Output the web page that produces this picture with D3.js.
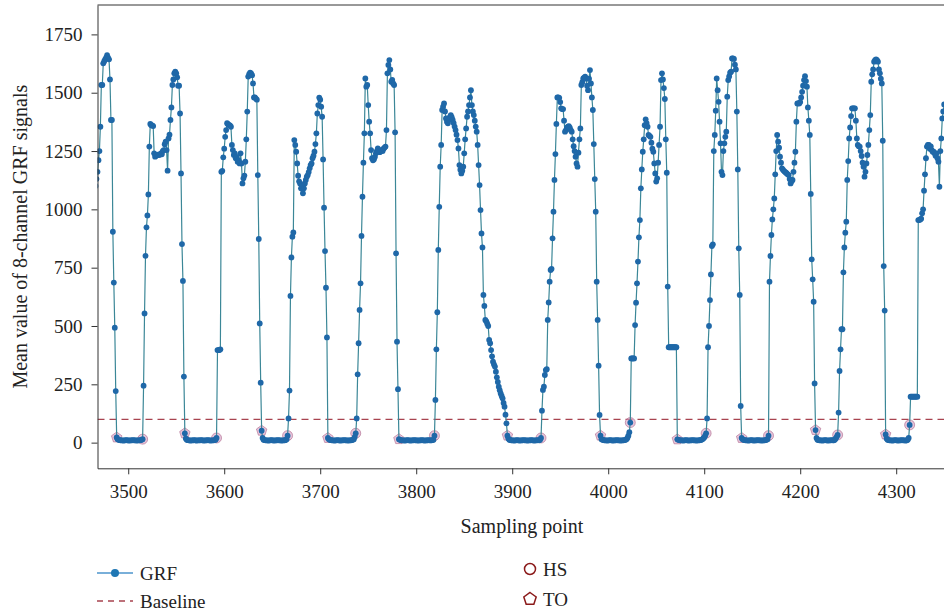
<!DOCTYPE html>
<html><head><meta charset="utf-8">
<script src="https://cdn.jsdelivr.net/npm/d3@7"></script>
<style>body{margin:0;background:#fff}svg{display:block}</style>
</head><body>
<svg id="c" width="944" height="614"></svg>
<script>
const firstSample = 3466;
const stance0 = [1100,1130,1161,1211,1250,1354,1533,1533,1626,1635,1643,1650,1661,1650,1643,1557,1383,1383,904,686,493,221];
const swing1 = [22,15,12,11,10,10,10,9,10,10,11,10,10,9,10,10,10,11,10,10,10,9,10,10,10,11,12,15];
const stance1 = [244,554,801,923,974,1064,1269,1366,1360,1360,1357,1240,1226,1230,1233,1235,1233,1235,1240,1236,1250,1254,1279,1290,1254,1166,1304,1320,1383,1437,1533,1557,1583,1590,1583,1566,1530,1530,1411,1154,851,693,283];
const swing2 = [40,18,12,11,10,10,9,10,10,10,11,10,9,10,10,10,10,11,10,10,9,10,10,10,11,10,10,9,10,10,10,11,12,20];
const stance2 = [397,397,397,400,1161,1165,1223,1260,1311,1340,1369,1365,1361,1360,1354,1276,1254,1233,1240,1219,1225,1204,1210,1197,1240,1197,1111,1133,1145,1204,1300,1419,1569,1580,1586,1583,1575,1540,1480,1480,1475,1470,1147,873,511,257];
const swing3 = [51,20,12,11,10,10,10,9,10,10,11,10,10,9,10,10,10,11,10,10,10,9,10,10,10,11,14,30];
const stance3 = [104,223,629,794,883,901,1297,1276,1247,1197,1144,1120,1111,1090,1100,1069,1090,1111,1126,1140,1147,1160,1176,1190,1197,1219,1230,1247,1280,1326,1411,1447,1479,1470,1440,1397,1214,1007,821,664,451];
const swing4 = [20,14,12,11,10,10,10,9,10,10,11,10,10,9,10,10,10,11,10,10,10,9,10,10,10,11,12,15,25,40];
const stance4 = [104,293,426,569,683,886,1054,1200,1326,1561,1526,1533,1447,1376,1326,1254,1219,1210,1215,1225,1240,1250,1261,1250,1245,1250,1255,1250,1260,1265,1269,1340,1583,1619,1640,1600,1547,1555,1540,1533,1330,811,433,229];
const swing5 = [15,12,11,10,10,10,9,10,10,11,10,10,9,10,10,10,11,10,10,10,9,10,10,10,11,10,10,9,10,10,10,11,10,10,10,11,12,30];
const stance5 = [183,400,559,826,1011,1183,1276,1426,1440,1454,1420,1390,1375,1369,1383,1395,1404,1395,1383,1370,1355,1340,1320,1297,1261,1190,1170,1154,1165,1183,1240,1300,1347,1397,1420,1447,1480,1511,1447,1420,1404,1380,1355,1333,1276,1190,1104,997,897,837,633,586,526,520,510,500,440,426,397,370,347,335,326,304,280,260,240,225,211,200,190,170,154,120,83];
const swing6 = [30,18,12,11,10,10,10,9,10,10,11,10,10,9,10,10,10,11,10,10,10,9,10,10,10,11,10,10,9,10,10,10,11,10,12,20];
const stance6 = [137,226,240,290,311,315,526,601,690,740,745,876,990,1126,1237,1366,1480,1480,1478,1460,1433,1430,1430,1380,1333,1340,1350,1354,1357,1350,1340,1333,1300,1271,1250,1226,1197,1183,1243,1300,1347,1533,1545,1561,1565,1569,1560,1530,1511,1560,1597,1540,1480,1426,1280,1130,990,690,526,330,119];
const swing7 = [30,15,12,11,10,10,10,9,10,10,11,10,10,9,10,10,10,11,10,10,10,9,10,10,10,11,12,14,20,30,45,86];
const stance7 = [361,361,361,361,504,600,683,776,880,954,1090,1171,1247,1300,1361,1386,1370,1354,1319,1315,1311,1286,1260,1247,1197,1154,1119,1133,1200,1276,1354,1554,1583,1557,1520,1473,1300,1157,669,409,409,409,409,409,409,409,409,409];
const swing8 = [14,12,11,10,10,10,9,10,10,11,10,10,9,10,10,10,11,10,10,10,9,10,10,10,11,12,14,18,22,30,40];
const stance8 = [104,409,500,611,721,843,850,1250,1319,1423,1561,1511,1461,1376,1283,1161,1147,1250,1283,1311,1333,1483,1554,1570,1586,1590,1647,1647,1645,1620,1600,1419,1171,833,633,157];
const swing9 = [20,14,12,11,10,10,10,9,10,10,11,10,10,9,10,10,10,11,10,10,10,9,10,10,10,11,12,15,30];
const stance9 = [690,800,890,957,1000,1047,1150,1250,1319,1290,1264,1226,1200,1176,1170,1165,1161,1158,1154,1150,1147,1130,1111,1120,1126,1161,1200,1247,1376,1454,1454,1454,1460,1480,1504,1530,1554,1571,1550,1526,1437,1380,1319,1066,786,700,604,254];
const swing10 = [54,20,12,11,10,10,10,9,10,10,11,10,10,9,10,10,10,11,10,10,12,18,25,33];
const stance10 = [129,307,400,486,486,730,837,900,947,1126,1207,1304,1351,1400,1433,1433,1433,1433,1380,1304,1276,1270,1269,1250,1229,1200,1183,1140,1161,1197,1233,1276,1340,1404,1547,1579,1600,1633,1640,1643,1640,1633,1600,1583,1560,1540,1294,757,566];
const swing11 = [35,18,12,11,10,10,10,9,10,10,11,10,10,9,10,10,10,11,10,10,10,9,10,12,20,76];
const stance11 = [197,197,197,197,197,197,197,197,954,954,957,960,983,1000,1080,1150,1219,1269,1276,1276,1260,1270,1254,1247,1247,1240,1230,1240,1219,1204,1097,1250,1304,1390,1420,1450];

const segments = [stance0,swing1,stance1,swing2,stance2,swing3,stance3,swing4,stance4,swing5,stance5,swing6,stance6,swing7,stance7,swing8,stance8,swing9,stance9,swing10,stance10,swing11,stance11];
const swingSegs = [swing1,swing2,swing3,swing4,swing5,swing6,swing7,swing8,swing9,swing10,swing11];

const xTicks = [3500,3600,3700,3800,3900,4000,4100,4200,4300];
const yTicks = [0,250,500,750,1000,1250,1500,1750];
const baselineValue = 100;
const legendItems = ["GRF","Baseline","HS","TO"];

// assemble
const grf = [], hs = [], to = [];
let s = firstSample;
segments.forEach(seg => {
  const start = s;
  seg.forEach(v => { grf.push({x: s, y: v}); s++; });
  if (swingSegs.includes(seg)) {
    to.push({x: start, y: seg[0]});
    hs.push({x: s - 1, y: seg[seg.length - 1]});
  }
});

const svg = d3.select("#c");
const L = 97.5, R = 944.2, T = 5, B = 468.3;
const x = d3.scaleLinear().domain([3468, 4350]).range([L, R]);
const y = d3.scaleLinear().domain([-110, 1876]).range([B, T]);
const font = "'Liberation Serif','Times New Roman',serif";

svg.append("defs").append("clipPath").attr("id","clip")
  .append("rect").attr("x",L).attr("y",T).attr("width",R-L).attr("height",B-T);

const plot = svg.append("g").attr("clip-path","url(#clip)");

// baseline
plot.append("line")
  .attr("x1",L).attr("x2",R).attr("y1",y(baselineValue)).attr("y2",y(baselineValue))
  .attr("stroke","#a8434f").attr("stroke-width",1.2).attr("stroke-dasharray","7,5");

function pentagon(cx, cy, r) {
  const pts = d3.range(5).map(k => {
    const a = -Math.PI/2 + k*2*Math.PI/5;
    return [cx + r*Math.cos(a), cy + r*Math.sin(a)];
  });
  return "M" + pts.map(p => p.join(",")).join("L") + "Z";
}

// markers (beneath the GRF dots)
plot.selectAll("path.to").data(to).join("path").attr("class","to")
  .attr("d", d => pentagon(x(d.x), y(d.y), 5.5))
  .attr("fill","rgba(214,160,195,0.6)").attr("stroke","rgba(165,90,130,0.55)").attr("stroke-width",1);
plot.selectAll("circle.hs").data(hs).join("circle").attr("class","hs")
  .attr("cx", d => x(d.x)).attr("cy", d => y(d.y)).attr("r",5)
  .attr("fill","rgba(214,160,195,0.6)").attr("stroke","rgba(165,90,130,0.55)").attr("stroke-width",1);

// GRF line + points
plot.append("path").datum(grf)
  .attr("fill","none").attr("stroke","#3b8797").attr("stroke-width",1.2)
  .attr("d", d3.line().x(d => x(d.x)).y(d => y(d.y)));
plot.selectAll("circle.pt").data(grf).join("circle").attr("class","pt")
  .attr("cx", d => x(d.x)).attr("cy", d => y(d.y)).attr("r",2.9)
  .attr("fill","#1f68a8");

// axes
const xAxis = svg.append("g").attr("transform",`translate(0,${B})`)
  .call(d3.axisBottom(x).tickValues(xTicks).tickFormat(d3.format("d")).tickSize(6).tickSizeOuter(0).tickPadding(10));
const yAxis = svg.append("g").attr("transform",`translate(${L},0)`)
  .call(d3.axisLeft(y).tickValues(yTicks).tickFormat(d3.format("d")).tickSize(6).tickSizeOuter(0).tickPadding(9));
[xAxis, yAxis].forEach(g => {
  g.selectAll("text").attr("font-family",font).attr("font-size",19).attr("fill","#222");
  g.selectAll("line").attr("stroke","#333");
  g.select(".domain").attr("stroke","#333");
});
svg.append("line").attr("x1",L).attr("x2",R).attr("y1",T).attr("y2",T).attr("stroke","#333");

svg.append("text").attr("x",522).attr("y",533).attr("text-anchor","middle")
  .attr("font-family",font).attr("font-size",20).attr("fill","#222").text("Sampling point");
svg.append("text").attr("transform",`translate(27,${(T+B)/2}) rotate(-90)`).attr("text-anchor","middle")
  .attr("font-family",font).attr("font-size",20).attr("fill","#222").text("Mean value of 8-channel GRF signals");

// legend
const lg = svg.append("g");
lg.append("line").attr("x1",97).attr("x2",133).attr("y1",573).attr("y2",573).attr("stroke","#4d94cc").attr("stroke-width",1.5);
lg.append("circle").attr("cx",115).attr("cy",573).attr("r",4).attr("fill","#1f77b4");
lg.append("text").attr("x",140).attr("y",573).attr("dy","0.35em").attr("font-family",font).attr("font-size",19).attr("fill","#222").text(legendItems[0]);
lg.append("line").attr("x1",97).attr("x2",133).attr("y1",601).attr("y2",601).attr("stroke","#a8434f").attr("stroke-width",1.3).attr("stroke-dasharray","6,5");
lg.append("text").attr("x",140).attr("y",601).attr("dy","0.35em").attr("font-family",font).attr("font-size",19).attr("fill","#222").text(legendItems[1]);
lg.append("circle").attr("cx",530).attr("cy",569).attr("r",5.5).attr("fill","none").attr("stroke","#8b1a1a").attr("stroke-width",1.5);
lg.append("text").attr("x",543).attr("y",569).attr("dy","0.35em").attr("font-family",font).attr("font-size",19).attr("fill","#222").text(legendItems[2]);
lg.append("path").attr("d",pentagon(530,599,6.5)).attr("fill","none").attr("stroke","#8b1a1a").attr("stroke-width",1.5);
lg.append("text").attr("x",543).attr("y",599).attr("dy","0.35em").attr("font-family",font).attr("font-size",19).attr("fill","#222").text(legendItems[3]);
</script>
</body></html>
